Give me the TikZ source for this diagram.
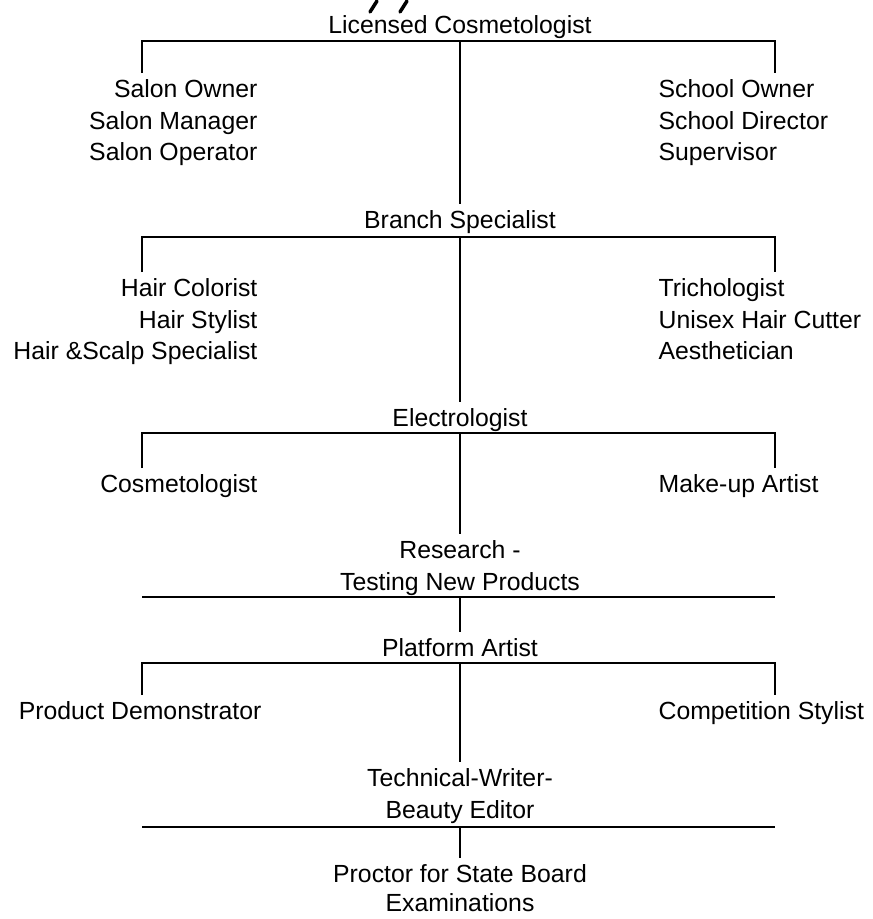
\documentclass[tikz,border=0pt]{standalone}
\usepackage{fontspec}
\setmainfont{Liberation Sans}
\begin{document}
\begin{tikzpicture}[x=1pt,y=-1pt]
\tikzstyle{job}=[font=\fontsize{24.8}{31.5}\selectfont, inner xsep=0pt, inner ysep=6pt]
\tikzstyle{ljob}=[job, align=right, anchor=north east]
\tikzstyle{rjob}=[job, align=left, anchor=north west]
\tikzstyle{mjob}=[job, align=center, anchor=north]
\tikzstyle{every path}=[line width=1.2pt]
\useasboundingbox (0,0) rectangle (873,919);
\draw [line width=3.5pt, line cap=round] (370,12) -- (377,1);
\draw [line width=3.5pt, line cap=round] (400,12) -- (407,1);
\node [mjob] (lc) at (460,9) {Licensed Cosmetologist};
\node [ljob] (salon) at (258,73) {Salon Owner\\Salon Manager\\Salon Operator};
\node [rjob] (school) at (658,73) {School Owner\\School Director\\Supervisor};
\node [mjob] (bs) at (460,204) {Branch Specialist};
\node [ljob] (hair) at (258,272) {Hair Colorist\\Hair Stylist\\Hair \&Scalp Specialist};
\node [rjob] (tricho) at (658,272) {Trichologist\\Unisex Hair Cutter\\Aesthetician};
\node [mjob] (el) at (460,402) {Electrologist};
\node [ljob] (cos) at (258,468) {Cosmetologist};
\node [rjob] (mua) at (658,468) {Make-up Artist};
\node [mjob] (res) at (460,534) {Research -\\Testing New Products};
\node [mjob] (pa) at (460,632) {Platform Artist};
\node [ljob] (pd) at (262,695) {Product Demonstrator};
\node [rjob] (cs) at (658,695) {Competition Stylist};
\node [mjob] (tw) at (460,762) {Technical-Writer-\\Beauty Editor};
\node [mjob, font=\fontsize{24.8}{29}\selectfont] (pr) at (460,858) {Proctor for State Board\\Examinations};
\coordinate (b1l) at (142,41);
\coordinate (b1r) at (775,41);
\coordinate (b2l) at (142,237);
\coordinate (b2r) at (775,237);
\coordinate (b3l) at (142,433);
\coordinate (b3r) at (775,433);
\coordinate (b4l) at (142,597);
\coordinate (b4r) at (775,597);
\coordinate (b5l) at (142,663);
\coordinate (b5r) at (775,663);
\coordinate (b6l) at (142,827);
\coordinate (b6r) at (775,827);
\draw (b1l |- salon.north) -- (b1l) -- (b1r) -- (b1r |- school.north);
\draw (lc |- b1l) -- (bs.north);
\draw (b2l |- hair.north) -- (b2l) -- (b2r) -- (b2r |- tricho.north);
\draw (bs |- b2l) -- (el.north);
\draw (b3l |- cos.north) -- (b3l) -- (b3r) -- (b3r |- mua.north);
\draw (el |- b3l) -- (res.north);
\draw (b4l) -- (b4r);
\draw (res |- b4l) -- (pa.north);
\draw (b5l |- pd.north) -- (b5l) -- (b5r) -- (b5r |- cs.north);
\draw (pa |- b5l) -- (tw.north);
\draw (b6l) -- (b6r);
\draw (tw |- b6l) -- (pr.north);
\end{tikzpicture}
\end{document}
